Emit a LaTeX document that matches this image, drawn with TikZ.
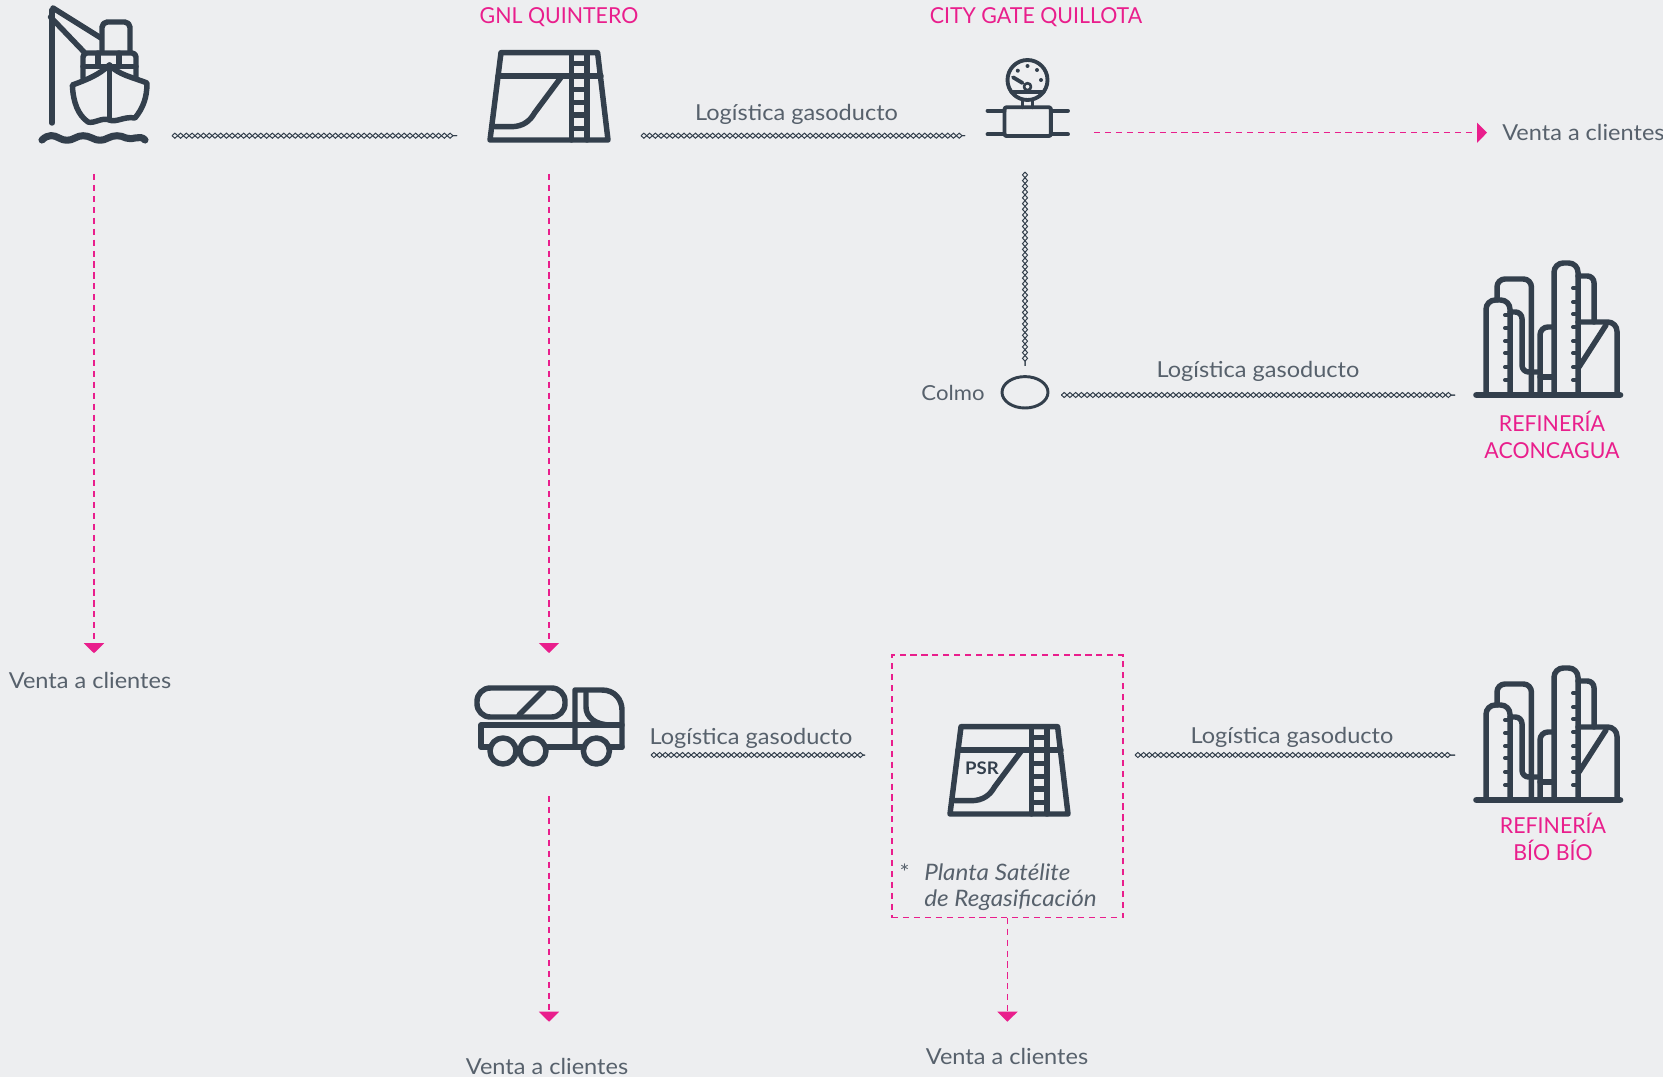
\documentclass[tikz,border=0pt]{standalone}
\usepackage{fontspec}
\setmainfont{Lato}[FakeStretch=1.07]
\newfontfamily\tagfont{Lato}[FakeStretch=0.97]
\usetikzlibrary{arrows.meta,shapes.geometric,decorations.pathmorphing}
\definecolor{bgcol}{HTML}{EDEEF0}
\definecolor{iconcol}{HTML}{333F4C}
\definecolor{textcol}{HTML}{57616C}
\definecolor{pinkcol}{HTML}{E91E8C}
\begin{document}
\begin{tikzpicture}[x=0.75pt,y=-0.75pt,
iconline/.style = {draw=iconcol,line width=4.1pt,line join=round,line cap=round},
thinline/.style = {draw=iconcol,line width=2.9pt,line join=round,line cap=round},
iconbox/.style = {inner sep=0pt,outer sep=0pt},
pipeline/.style = {
  postaction={draw=iconcol,line width=0.75pt,decorate,decoration={zigzag,segment length=8.6pt,amplitude=1.9pt}},
  postaction={draw=iconcol,line width=0.75pt,decorate,decoration={zigzag,mirror,segment length=8.6pt,amplitude=1.9pt}}},
saleline/.style = {draw=pinkcol,line width=1.05pt,dash pattern=on 4.6pt off 3.6pt,-{Triangle[width=15pt,length=7.5pt,fill=pinkcol]}},
tag/.style = {text=pinkcol,font=\tagfont\fontsize{16.5}{18}\selectfont,align=center,inner sep=0pt},
lbl/.style = {text=textcol,font=\fontsize{16.5}{18}\selectfont,inner sep=0pt},
plant/.pic = {
  \draw[iconline] (-48,-43.3) -- (48.6,-43.3) -- (59,44) -- (-59,44) -- cycle;
  \draw[iconline] (-51,-20) -- (52,-20);
  \draw[iconline] (22.5,-43) -- (22.5,44) (38,-43) -- (38,44);
  \draw[iconline,line cap=butt] (22.5,-32.7) -- (38,-32.7) (22.5,-6.7) -- (38,-6.7) (22.5,6.7) -- (38,6.7) (22.5,19) -- (38,19) (22.5,32.3) -- (38,32.3);
  \draw[iconline] (-54,30.7) -- (-38,30.7) .. controls (-26,30.7) and (-19,25) .. (-14.5,17) -- (13,-20);
},
refinery/.pic = {
  \draw[iconline,line width=5pt] (-71.5,0) -- (72,0);
  \draw[iconline,rounded corners=7pt] (-62,0) -- (-62,-95) -- (-38,-95) -- (-38,0);
  \draw[iconline,rounded corners=6pt] (-51,-95) -- (-51,-116) -- (-16.6,-116) -- (-16.6,0);
  \draw[iconline,rounded corners=5pt] (-38,-83) -- (-26,-83) -- (-26,-23) -- (-8,-23);
  \draw[iconline,rounded corners=6pt] (-8,0) -- (-8,-68) -- (6,-68);
  \draw[iconline] (-8,-18) -- (6,-18);
  \draw[iconline,rounded corners=7pt] (6,0) -- (6,-132) -- (30,-132) -- (30,0);
  \draw[iconline,rounded corners=5pt] (30,-119) -- (46,-119) -- (46,-73);
  \draw[iconline,rounded corners=7pt] (30,-73) -- (69,-73) -- (69,0);
  \draw[iconline] (58,-70) -- (31,-28);
  \draw[iconline,line width=3pt] (-43,-80) -- (-38,-80) (-43,-67) -- (-38,-67) (-43,-54) -- (-38,-54) (-43,-42) -- (-38,-42) (-43,-28) -- (-38,-28) (-43,-15) -- (-38,-15);
  \draw[iconline,line width=3pt] (25,-107) -- (30,-107) (25,-93) -- (30,-93) (25,-81) -- (30,-81) (25,-68) -- (30,-68) (25,-54) -- (30,-54) (25,-42) -- (30,-42) (25,-28) -- (30,-28) (25,-15) -- (30,-15);
},
boat/.pic = {
  \draw[iconline] (-42,53) -- (-42,-60);
  \draw[iconline] (-41,-62) -- (7,-32) (-43.5,-53) -- (-10,-18);
  \draw[iconline,rounded corners=4pt] (8,-18) -- (8,-48) -- (36,-48) -- (36,-18);
  \draw[iconline,rounded corners=3pt] (-11,8) -- (-11,-17) -- (42,-17) -- (42,8);
  \draw[iconline] (-11,-3.5) -- (42,-3.5) (4,-17) -- (4,-3.5) (25,-17) -- (25,-3.5);
  \draw[fill=bgcol,iconline] (15.4,-5) .. controls (5,5) and (-8,10) .. (-21.6,15)
    .. controls (-21,32) and (-16,45) .. (-6,52) .. controls (0,54) and (8,47) .. (15.4,50)
    .. controls (22,53) and (30,46) .. (41,48) .. controls (49,38) and (53,28) .. (53,13)
    .. controls (38,7) and (25,5) .. (15.4,-5) -- cycle;
  \draw[iconline] (15.4,-5) -- (15.4,50);
  \draw[iconline,line width=5.3pt] (-52,70) .. controls (-46,64) and (-40,65) .. (-35,68) .. controls (-30,71) and (-24,71) .. (-19,68)
    .. controls (-14,65) and (-8,65) .. (-2,68) .. controls (3,71) and (9,71) .. (14,68)
    .. controls (20,65) and (26,65) .. (32,68) .. controls (38,71) and (46,64) .. (51,70);
},
tanker/.pic = {
  \draw[iconline,rounded corners=10pt] (-72,-32) rectangle (16,-3);
  \draw[iconline] (-30,-5) -- (-5,-30);
  \draw[iconline] (-59,27) -- (-68,27) -- (-68,5) -- (73,5);
  \draw[iconline] (-2,27) -- (33,27) (61,27) -- (73,27);
  \draw[iconline] (26,27) -- (26,-30) -- (53,-30) .. controls (66,-30) and (73,-20) .. (73,-10) -- (73,27);
  \draw[iconline] (37,-27) -- (37,-13) .. controls (37,-3) and (46,5) .. (62,5);
  \draw[iconline,fill=bgcol] (-46,31) circle (13) (-16,31) circle (13) (47.4,31) circle (13);
},
gauge/.pic = {
  \draw[thinline] (0,-20) circle (20);
  \draw[thinline] (-16,-7.7) -- (16,-7.7);
  \draw[thinline,line width=2pt] (0,-13.3) circle (3.5);
  \draw[thinline] (-14.5,-22.7) -- (-5,-17);
  \fill[iconcol] (-9.7,-29.3) circle (2) (0,-34) circle (2) (9.5,-30) circle (2) (13.5,-20) circle (2);
  \draw[thinline] (-5,0) -- (-5,7.3) (5,0) -- (5,7.3);
  \draw[thinline,rounded corners=1.5pt] (-23,7.3) rectangle (23.4,36);
  \draw[thinline] (-40,10.7) -- (-23,10.7) (-40,34.3) -- (-23,34.3) (23.4,10.7) -- (40.5,10.7) (23.4,34.3) -- (40.5,34.3);
}
]
  \useasboundingbox (0,0) rectangle (1663,1077);
  \fill[bgcol] (0,0) rectangle (1663,1077);

  % icons
  \pic at (94,70) {boat};
  \pic at (549,96) {plant};
  \pic at (1027.5,100) {gauge};
  \pic at (1548,395) {refinery};
  \pic at (549,720) {tanker};
  \pic at (1009,770) {plant};
  \pic at (1548,800) {refinery};

  % node boxes round the icons
  \node[iconbox,minimum width=156*0.75pt,minimum height=76.6*0.75pt] (ship) at (94,135.7) {};
  \node[iconbox,minimum width=184*0.75pt,minimum height=76.6*0.75pt] (gnl) at (549,135.7) {};
  \node[iconbox,minimum width=120*0.75pt,minimum height=72.6*0.75pt] (gate) at (1025,135.7) {};
  \node[iconbox,minimum width=188*0.75pt] (refa) at (1549,395) {};
  \node[iconbox,minimum width=204*0.75pt,minimum height=143*0.75pt] (truck) at (549,724.5) {};
  \node[iconbox,minimum width=270*0.75pt] (sat) at (1000,755) {};
  \node[iconbox,minimum width=188*0.75pt] (refb) at (1549,755) {};
  \node[ellipse,draw=iconcol,line width=2.2pt,minimum width=46*0.75pt,minimum height=31.4*0.75pt,inner sep=0pt,outer xsep=10pt,outer ysep=8pt] (colmo) at (1025,392.3) {};
  \node[draw=pinkcol,line width=1.05pt,dash pattern=on 4.6pt off 3.6pt,minimum width=230.8*0.75pt,minimum height=262.7*0.75pt,inner sep=0pt,outer sep=0pt] (psr) at (1007.4,786.4) {};

  % labels
  \node[tag] (tgnl) at (559,17.5) {GNL QUINTERO};
  \node[tag] (tgate) at (1036,17.5) {CITY GATE QUILLOTA};
  \node[tag] (trefa) at (1552,435) {REFINERÍA\\[2.5pt]ACONCAGUA};
  \node[tag] (trefb) at (1553,837) {REFINERÍA\\[2.5pt]BÍO BÍO};
  \node[lbl,font=\fontsize{15.5}{18}\selectfont] (lcolmo) at (953,393) {Colmo};
  \node[lbl] (lga) at (796.6,114.5) {Logística gasoducto};
  \node[lbl] (lgb) at (1258,371) {Logística gasoducto};
  \node[lbl] (lgc) at (751,738.2) {Logística gasoducto};
  \node[lbl] (lgd) at (1292,737.5) {Logística gasoducto};
  \node[lbl,font=\fontsize{13}{16}\selectfont\bfseries,text=iconcol] (lpsr) at (982,768) {PSR};
  \node[lbl,anchor=center] (star) at (904.5,872) {*};
  \node[lbl,font=\fontsize{17}{18}\selectfont\itshape,align=left,anchor=north west] (lsat) at (924,864) {Planta Satélite\\[0.8pt]de Regasificación};

  \node[lbl,minimum height=54*0.75pt] (vship) at (90,680.5) {Venta a clientes};
  \node[lbl,anchor=west,inner xsep=15*0.75pt] (vgate) at (1487,132.7) {Venta a clientes};
  \node[lbl,minimum height=88*0.75pt] (vtruck) at (547,1066) {Venta a clientes};
  \node[lbl,minimum height=68*0.75pt] (vpsr) at (1007,1056) {Venta a clientes};

  % gas lines
  \path[pipeline] (ship.east) -- (gnl.west);
  \path[pipeline] (gnl.east) -- (gate.west);
  \path[pipeline] (gate.south) -- (colmo.north);
  \path[pipeline] (colmo.east |- refa.west) -- (refa.west);
  \path[pipeline] (truck.east |- sat.west) -- (sat.west);
  \path[pipeline] (sat.east) -- (refb.west);

  % sales lines
  \coordinate (gateout) at (1094,132.7);
  \draw[saleline] (ship.south) -- (ship.south |- vship.north);
  \draw[saleline] (gnl.south) -- (truck.north);
  \draw[saleline] (gateout) -- (vgate.west);
  \draw[saleline] (truck.south) -- (truck.south |- vtruck.north);
  \draw[saleline] (psr.south) -- (psr.south |- vpsr.north);
\end{tikzpicture}
\end{document}
